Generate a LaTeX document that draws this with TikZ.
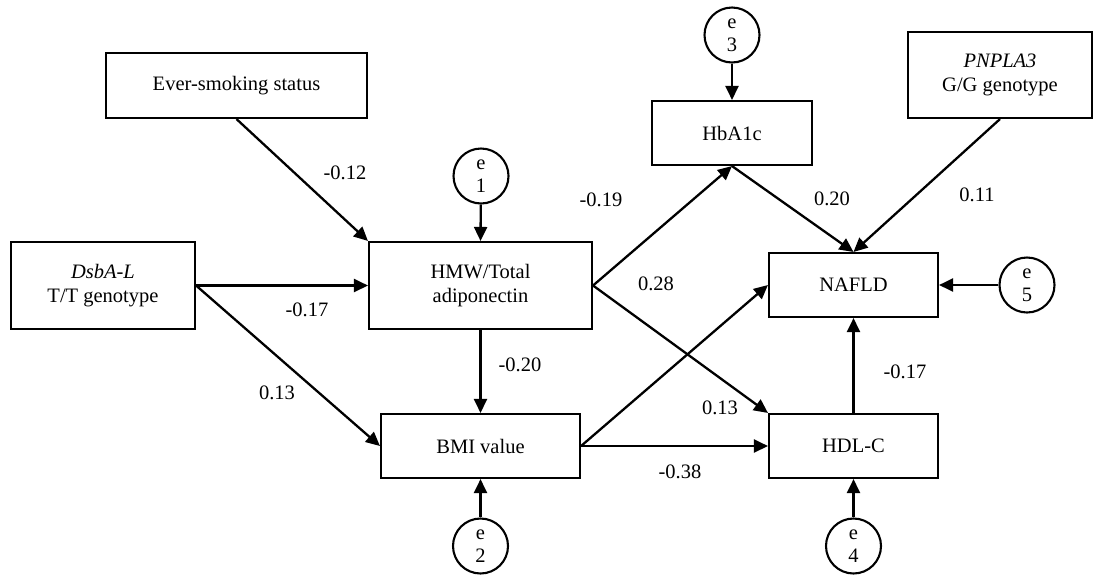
\documentclass[tikz,border=0pt]{standalone}
\usepackage{fontspec}
\setmainfont{Liberation Serif}
\usetikzlibrary{arrows.meta}
\begin{document}
\begin{tikzpicture}[x=1pt,y=-1pt,
  every node/.style={font=\fontsize{20.5}{24}\selectfont},
  box/.style={draw,line width=2.1pt,inner sep=0pt,align=center},
  err/.style={draw,circle,line width=2.1pt,minimum size=55pt,inner sep=0pt,align=center,font=\fontsize{20.5}{23}\selectfont},
  conn/.style={line width=2.3pt,-{Triangle[length=14pt,width=13pt]}},
  lab/.style={inner sep=0pt}]
\useasboundingbox (0,0) rectangle (1094,574);
% boxes
\node[box,minimum width=261pt,minimum height=65pt] (smoke) at (236.5,85.5) {Ever-smoking status};
\node[box,minimum width=184pt,minimum height=87pt] (dsba) at (103,285.5) {\textit{DsbA-L}\\T/T genotype};
\node[box,minimum width=223pt,minimum height=87pt] (hmw) at (480.5,285.5) {HMW/Total\\adiponectin};
\node[box,minimum width=199pt,minimum height=64pt] (bmi) at (480.5,446) {BMI value};
\node[box,minimum width=160pt,minimum height=64pt] (hba) at (732,133) {HbA1c};
\node[box,minimum width=184pt,minimum height=86pt] (pnp) at (1000,75) {\textit{PNPLA3}\\G/G genotype};
\node[box,minimum width=169pt,minimum height=64pt] (nafld) at (853.5,285) {NAFLD};
\node[box,minimum width=169pt,minimum height=64pt] (hdl) at (853.5,446) {HDL-C};
% error terms
\node[err] (e1) at (481,176) {e\\1};
\node[err] (e2) at (480.5,546) {e\\2};
\node[err] (e3) at (732,35) {e\\3};
\node[err] (e4) at (853.5,546) {e\\4};
\node[err] (e5) at (1027,285) {e\\5};
% paths
\draw[conn] (smoke.south) -- (hmw.north west);
\draw[conn] (dsba.east) -- (hmw.west);
\draw[conn] (dsba.east) -- (bmi.west);
\draw[conn] (hmw.south) -- (bmi.north);
\draw[conn] (hmw.east) -- (hba.south);
\draw[conn] (hmw.east) -- (hdl.north west);
\draw[conn] (bmi.east) -- (hdl.west);
\draw[conn] (bmi.east) -- (nafld.west);
\draw[conn] (hba.south) -- (nafld.north);
\draw[conn] (pnp.south) -- (nafld.north);
\draw[conn] (hdl.north) -- (nafld.south);
\draw[conn] (e1) -- (hmw.north);
\draw[conn] (e2) -- (bmi.south);
\draw[conn] (e3) -- (hba.north);
\draw[conn] (e4) -- (hdl.south);
\draw[conn] (e5) -- (nafld.east);
% labels
\node[lab] (l1) at (345,173) {-0.12};
\node[lab] (l2) at (307,310) {-0.17};
\node[lab] (l3) at (277,393) {0.13};
\node[lab] (l4) at (520,365) {-0.20};
\node[lab] (l5) at (601,200) {-0.19};
\node[lab] (l6) at (720,408) {0.13};
\node[lab] (l7) at (680,472) {-0.38};
\node[lab] (l8) at (656,284) {0.28};
\node[lab] (l9) at (832,199) {0.20};
\node[lab] (l10) at (977,195) {0.11};
\node[lab] (l11) at (905,372) {-0.17};
\end{tikzpicture}
\end{document}
